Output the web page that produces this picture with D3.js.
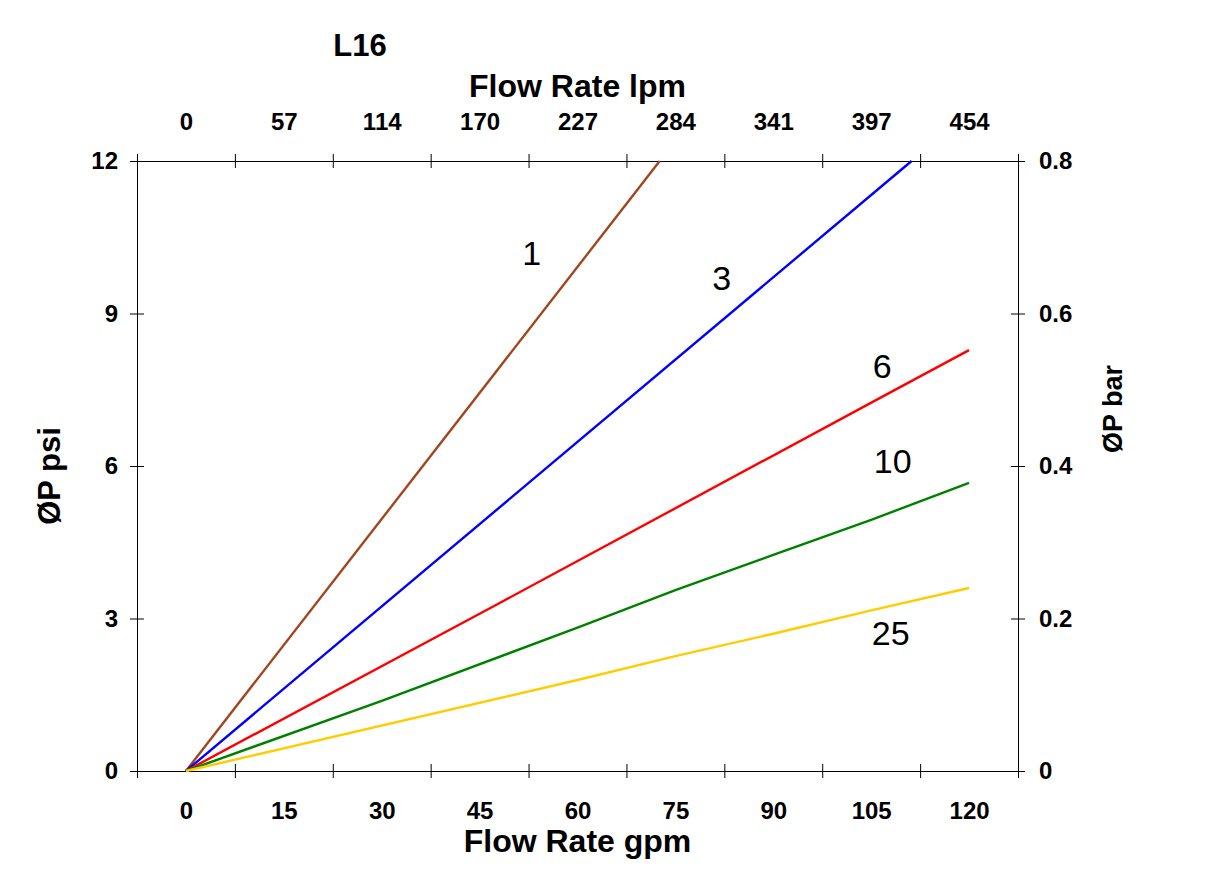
<!DOCTYPE html>
<html>
<head>
<meta charset="utf-8">
<script src="https://cdn.jsdelivr.net/npm/d3@7"></script>
<style>
  body { margin: 0; background: #fff; }
  text { font-family: "Liberation Sans", Arial, sans-serif; }
</style>
</head>
<body>
<script>
// chart data (gpm vs psi)
const gpmTicks = [0, 15, 30, 45, 60, 75, 90, 105, 120]
const lpmLabels = ['0', '57', '114', '170', '227', '284', '341', '397', '454']
const psiTicks = [0, 3, 6, 9, 12]
const barTicks = [0, 0.2, 0.4, 0.6, 0.8]
const barLabels = ['0', '0.2', '0.4', '0.6', '0.8']
const seriesNames = ['1', '3', '6', '10', '25']
const series1 = [[0, 0], [72.6, 12]]
const series3 = [[0, 0], [111.2, 12]]
const series6 = [[0, 0], [48, 3.3], [106.8, 7.37], [120, 8.28]]
const series10 = [[0, 0], [30, 1.38], [60, 2.82], [75, 3.56], [90, 4.25], [105, 4.94], [120, 5.67]]
const series25 = [[0, 0], [60, 1.79], [75, 2.26], [90, 2.7], [105, 3.16], [120, 3.6]]

const width = 1209
const height = 886
const colors = ['#a0461e', '#0000ff', '#ff0000', '#008000', '#ffcc00']
// label anchors in data units
const labelPos = [[53.0, 9.95], [82.1, 9.46], [106.7, 7.73], [108.3, 5.86], [108.0, 2.48]]

let svg = d3.select('body').append('svg')
    .attr('width', width)
    .attr('height', height)

const plotLeft = 137, plotRight = 1018, plotTop = 161, plotBottom = 771

let x = d3.scaleLinear().domain([-7.5, 127.5]).range([plotLeft, plotRight])
let y = d3.scaleLinear().domain([0, 12]).range([plotBottom, plotTop])
let yBar = d3.scaleLinear().domain([0, 0.8]).range([plotBottom, plotTop])

const tickMarks = d3.range(-7.5, 128, 15)

function crossTicks(g, horizontal) {
    g.selectAll('.tick line')
        .attr(horizontal ? 'y1' : 'x1', -7)
        .attr(horizontal ? 'y2' : 'x2', 7)
        .attr('stroke', '#000')
    g.select('.domain').attr('stroke', '#000')
}

function boldLabels(g) {
    g.selectAll('text')
        .attr('font-size', 24).attr('font-weight', 'bold')
        .attr('font-family', '"Liberation Sans", Arial, sans-serif').attr('fill', '#000')
}

// bottom axis
svg.append('g')
    .attr('transform', `translate(0,${plotBottom})`)
    .call(d3.axisBottom(x).tickValues(tickMarks).tickFormat('').tickSizeOuter(0))
    .call(g => crossTicks(g, true))

svg.append('g')
    .attr('transform', `translate(0,${plotBottom})`)
    .call(d3.axisBottom(x).tickValues(gpmTicks).tickSize(0).tickPadding(31))
    .call(g => g.select('.domain').remove())
    .call(boldLabels)

// top axis
svg.append('g')
    .attr('transform', `translate(0,${plotTop})`)
    .call(d3.axisTop(x).tickValues(tickMarks).tickFormat('').tickSizeOuter(0))
    .call(g => crossTicks(g, true))

svg.append('g')
    .attr('transform', `translate(0,${plotTop})`)
    .call(d3.axisTop(x).tickValues(gpmTicks).tickSize(0).tickPadding(31)
        .tickFormat((d, i) => lpmLabels[i]))
    .call(g => g.select('.domain').remove())
    .call(boldLabels)

// left axis
svg.append('g')
    .attr('transform', `translate(${plotLeft},0)`)
    .call(d3.axisLeft(y).tickValues(psiTicks).tickSize(7).tickSizeOuter(0).tickPadding(12))
    .call(g => crossTicks(g, false))
    .call(boldLabels)

// right axis
svg.append('g')
    .attr('transform', `translate(${plotRight},0)`)
    .call(d3.axisRight(yBar).tickValues(barTicks).tickSize(7).tickSizeOuter(0).tickPadding(14)
        .tickFormat((d, i) => barLabels[i]))
    .call(g => crossTicks(g, false))
    .call(boldLabels)

// lines
const allSeries = [series1, series3, series6, series10, series25]
let line = d3.line().x(d => x(d[0])).y(d => y(d[1]))

svg.append('g').selectAll('path')
    .data(allSeries)
    .join('path')
    .attr('d', line)
    .attr('fill', 'none')
    .attr('stroke', (d, i) => colors[i])
    .attr('stroke-width', 2.4)

svg.append('g').selectAll('text')
    .data(seriesNames)
    .join('text')
    .attr('x', (d, i) => x(labelPos[i][0]))
    .attr('y', (d, i) => y(labelPos[i][1]))
    .attr('text-anchor', 'middle')
    .attr('font-size', 34)
    .text(d => d)

// titles
svg.append('text')
    .attr('x', 360).attr('y', 56)
    .attr('text-anchor', 'middle')
    .attr('font-size', 31).attr('font-weight', 'bold')
    .text('L16')

svg.append('text')
    .attr('x', (plotLeft + plotRight) / 2).attr('y', 97)
    .attr('text-anchor', 'middle')
    .attr('font-size', 32).attr('font-weight', 'bold')
    .text('Flow Rate lpm')

svg.append('text')
    .attr('x', (plotLeft + plotRight) / 2).attr('y', 852)
    .attr('text-anchor', 'middle')
    .attr('font-size', 32).attr('font-weight', 'bold')
    .text('Flow Rate gpm')

svg.append('text')
    .attr('transform', 'translate(60,476) rotate(-90)')
    .attr('text-anchor', 'middle')
    .attr('font-size', 31).attr('font-weight', 'bold')
    .text('ØP psi')

svg.append('text')
    .attr('transform', 'translate(1122,409) rotate(-90)')
    .attr('text-anchor', 'middle')
    .attr('font-size', 27).attr('font-weight', 'bold')
    .text('ØP bar')
</script>
</body>
</html>
